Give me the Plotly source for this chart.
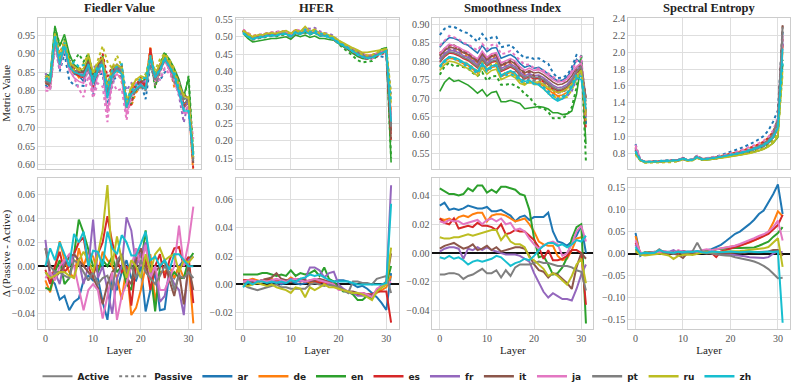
import numpy as np
import plotly.graph_objects as go

layers = list(range(32))
langs = ["ar", "de", "en", "es", "fr", "it", "ja", "pt", "ru", "zh"]
colors = {"ar": "#1f77b4", "de": "#ff7f0e", "en": "#2ca02c", "es": "#d62728", "fr": "#9467bd",
          "it": "#8c564b", "ja": "#e377c2", "pt": "#7f7f7f", "ru": "#bcbd22", "zh": "#17becf"}

# ---- Fiedler value ----
fiedler_active = {
    "ar": [.820, .815, .940, .880, .925, .865, .845, .840, .825, .870, .800, .855, .875, .800, .840, .855, .845, .760, .800, .815, .820, .815, .890, .830, .865, .885, .870, .845, .800, .760, .765, .605],
    "de": [.835, .830, .950, .880, .930, .875, .855, .835, .840, .880, .830, .865, .880, .800, .850, .865, .850, .765, .800, .830, .830, .815, .910, .840, .865, .890, .865, .820, .800, .760, .775, .620],
    "en": [.845, .840, .975, .920, .952, .900, .870, .860, .850, .885, .840, .870, .890, .800, .855, .870, .860, .770, .785, .800, .815, .805, .895, .845, .870, .900, .885, .860, .830, .785, .835, .615],
    "es": [.830, .825, .950, .880, .930, .870, .850, .840, .835, .875, .820, .860, .880, .795, .845, .860, .850, .760, .795, .815, .825, .810, .915, .830, .860, .890, .875, .840, .805, .755, .770, .615],
    "fr": [.825, .830, .945, .875, .925, .870, .855, .845, .845, .875, .830, .865, .875, .800, .850, .870, .850, .760, .790, .805, .815, .805, .895, .835, .860, .885, .870, .845, .805, .755, .770, .620],
    "it": [.820, .815, .940, .880, .930, .875, .855, .850, .850, .880, .835, .865, .890, .815, .860, .870, .860, .770, .790, .805, .815, .805, .890, .830, .860, .885, .870, .845, .815, .790, .780, .620],
    "ja": [.810, .805, .935, .860, .915, .855, .835, .825, .820, .860, .795, .840, .855, .740, .830, .845, .830, .735, .785, .805, .815, .805, .885, .825, .850, .880, .855, .825, .790, .740, .740, .620],
    "pt": [.825, .820, .945, .875, .925, .870, .850, .845, .840, .870, .825, .860, .880, .800, .845, .860, .850, .760, .790, .805, .810, .805, .890, .830, .855, .885, .870, .845, .810, .780, .775, .615],
    "ru": [.840, .835, .955, .890, .935, .880, .865, .855, .860, .895, .850, .875, .890, .810, .860, .870, .860, .770, .810, .830, .840, .835, .895, .845, .870, .895, .875, .850, .815, .785, .780, .620],
    "zh": [.830, .825, .945, .870, .920, .865, .850, .845, .840, .870, .820, .855, .870, .780, .840, .855, .845, .755, .790, .805, .815, .805, .890, .835, .855, .885, .865, .840, .795, .745, .745, .625],
}
fiedler_delta = {
    "ar": [-.005, -.010, -.015, -.028, -.025, -.037, -.030, -.027, -.012, -.008, -.012, -.010, -.030, -.045, -.010, -.020, -.005, .005, -.010, -.012, .000, -.038, -.020, -.005, -.037, -.036, -.005, -.010, .000, .005, .007, .008],
    "de": [-.012, -.022, -.005, .021, .005, -.005, -.010, .015, .000, .012, .008, -.005, .012, .005, .000, -.010, -.028, .000, -.041, -.035, -.020, .000, .010, -.030, -.005, -.005, .000, -.010, .000, -.010, .002, -.048],
    "en": [-.018, -.020, -.005, .005, -.015, -.010, .010, .039, .028, .015, .000, -.005, .005, .000, .008, -.005, .000, -.015, -.020, .015, .000, .030, -.005, -.038, .000, .005, -.010, -.005, -.010, -.010, .005, .011],
    "es": [-.003, -.015, .000, .012, -.005, .000, .010, .020, .024, .000, -.010, .010, .020, .042, .020, .005, -.005, .000, -.033, .000, .010, .005, -.020, .000, .010, -.010, .005, .015, .016, .000, .008, -.031],
    "fr": [.022, -.010, -.005, -.015, .005, .000, .010, .005, -.015, .000, .039, -.010, .000, -.020, -.040, -.010, .000, .041, .030, .000, .010, .020, -.010, .000, -.030, -.025, -.005, -.015, -.020, -.041, .005, .008],
    "it": [.015, -.005, -.010, -.005, .000, .008, .010, .005, .000, -.005, -.010, -.018, -.032, -.015, -.005, .000, .010, -.010, -.015, .005, .015, .000, -.010, -.005, .000, .005, -.012, -.025, -.005, -.032, .000, -.020],
    "ja": [-.010, -.005, -.012, .000, .005, .010, .000, -.020, -.037, -.020, -.015, -.020, -.044, -.025, -.005, -.045, -.025, -.015, .000, .015, .000, .018, -.010, .000, -.020, -.020, -.010, .000, .034, .000, .020, .050],
    "pt": [.015, .000, -.005, -.005, -.008, -.010, .005, .002, -.005, -.012, -.005, -.015, -.010, -.008, -.020, .005, .010, -.005, .000, -.010, .005, -.005, -.010, -.015, -.008, .000, -.005, -.020, -.008, -.010, -.005, -.010],
    "ru": [-.005, -.010, -.008, -.005, -.005, -.008, -.010, .005, .012, .005, -.005, .010, .030, .068, .000, .025, .005, -.010, .005, .000, -.010, .010, -.005, .010, .015, .005, .008, .010, -.005, .005, .003, .008],
    "zh": [.000, .015, .005, .020, .010, .000, .027, .020, .029, .000, .013, .012, .000, .029, .015, .010, .026, .020, .009, .009, .019, .029, .005, .008, .000, .005, -.003, .010, .010, .005, .000, .000],
}

# ---- HFER ----
hfer_active = {
    "ar": [.516, .507, .497, .502, .502, .506, .506, .507, .511, .512, .502, .515, .512, .518, .511, .514, .506, .505, .500, .494, .486, .478, .470, .462, .455, .448, .443, .446, .451, .456, .458, .240],
    "de": [.517, .508, .498, .503, .503, .508, .508, .508, .513, .513, .503, .517, .513, .521, .513, .516, .508, .508, .503, .496, .488, .481, .473, .465, .458, .451, .446, .448, .453, .458, .462, .275],
    "en": [.510, .495, .485, .488, .490, .493, .495, .495, .498, .500, .493, .505, .500, .505, .498, .502, .495, .495, .492, .490, .480, .472, .462, .452, .443, .437, .435, .440, .450, .465, .468, .137],
    "es": [.515, .505, .495, .500, .500, .505, .505, .505, .510, .510, .500, .515, .510, .518, .510, .513, .505, .505, .500, .493, .485, .478, .470, .462, .455, .448, .443, .445, .450, .455, .460, .230],
    "fr": [.518, .507, .497, .502, .503, .507, .508, .508, .512, .513, .503, .516, .512, .520, .511, .514, .506, .506, .501, .494, .486, .479, .471, .463, .456, .449, .444, .446, .451, .456, .461, .260],
    "it": [.516, .506, .496, .501, .501, .506, .507, .506, .511, .511, .501, .515, .511, .519, .511, .514, .506, .506, .501, .494, .486, .479, .471, .463, .456, .449, .444, .446, .451, .456, .460, .205],
    "ja": [.519, .509, .499, .503, .504, .509, .509, .509, .514, .514, .504, .518, .514, .522, .514, .517, .509, .508, .503, .496, .487, .480, .472, .464, .457, .450, .445, .447, .452, .457, .462, .260],
    "pt": [.514, .504, .495, .500, .500, .504, .505, .504, .509, .509, .500, .514, .509, .517, .509, .512, .504, .504, .499, .492, .484, .477, .469, .461, .454, .447, .442, .444, .449, .454, .459, .240],
    "ru": [.518, .508, .500, .505, .505, .510, .510, .510, .515, .518, .510, .520, .515, .530, .515, .522, .510, .510, .505, .500, .490, .482, .475, .468, .462, .455, .455, .458, .460, .462, .465, .310],
    "zh": [.512, .500, .493, .497, .498, .502, .503, .503, .507, .508, .500, .512, .507, .516, .507, .512, .503, .502, .498, .492, .482, .474, .466, .456, .448, .442, .438, .440, .446, .452, .458, .255],
}
hfer_delta = {
    "ar": [.000, .001, .002, .001, .003, .002, .001, .002, .000, .001, .002, .001, .000, .001, .002, .001, .002, .001, .002, .002, .003, .003, .002, .000, -.002, -.001, -.003, -.006, -.009, -.013, -.018, .008],
    "de": [.003, .003, .004, .003, .002, .003, .004, .002, .003, .002, .005, .003, .002, .003, .001, .002, .003, .001, .000, -.001, -.003, -.004, -.005, -.006, -.007, -.006, -.007, -.008, -.006, -.004, -.002, .006],
    "en": [.007, .007, .007, .007, .008, .008, .007, .006, .007, .006, .010, .006, .008, .007, .008, .010, .006, .012, .004, .002, -.002, -.005, -.005, -.007, -.011, -.011, -.008, -.010, -.005, -.002, .000, .013],
    "es": [.003, .003, .003, .002, .003, .004, .003, .002, .003, .003, .002, .004, .003, .002, .003, .002, .001, .002, .000, -.001, -.003, -.004, -.005, -.006, -.007, -.007, -.007, -.007, -.005, -.005, -.005, -.027],
    "fr": [.002, .002, .001, .002, .003, .002, .003, .002, .001, .002, .004, .003, .002, .004, .012, .012, .010, .005, .008, .009, .000, -.003, -.005, -.006, -.008, -.008, -.008, -.008, -.005, .000, .000, .070],
    "it": [.002, .002, .001, .002, .003, .004, .005, .008, .004, .003, .002, .003, .004, .003, .002, .003, .004, .003, .002, .000, -.002, -.004, -.005, -.005, -.006, -.006, -.007, -.008, -.004, -.001, .002, .022],
    "ja": [.002, .003, .003, .002, .003, .002, .003, .004, .003, .002, .003, .004, .003, .002, .003, .004, .003, .002, .001, .000, -.004, -.004, -.005, -.006, -.006, -.006, -.007, -.009, -.003, -.001, .000, .002],
    "pt": [.000, -.002, -.003, -.004, -.003, -.002, -.001, .000, -.002, -.002, -.003, -.003, -.003, -.003, .000, .001, .000, -.001, .000, -.001, -.002, -.004, -.006, .002, .002, .001, .001, .000, .004, .005, .006, -.006],
    "ru": [.000, -.001, .000, .001, .000, -.001, .000, -.002, -.003, -.004, -.006, -.002, -.003, -.009, -.002, -.004, -.002, .000, -.002, -.002, -.003, -.004, -.005, -.006, -.006, -.007, -.009, -.011, -.005, -.002, .000, .026],
    "zh": [-.002, .002, .000, .002, .002, .001, .002, .001, .002, .001, .003, .002, .004, .005, .007, .006, .007, .005, .003, .002, .002, .002, .002, .001, .000, .000, .000, .000, .000, .000, .001, .057],
}

# ---- Smoothness index ----
smooth_active = {
    "ar": [.838, .853, .864, .862, .857, .848, .843, .833, .822, .843, .826, .835, .837, .808, .814, .818, .810, .794, .783, .788, .781, .783, .775, .765, .754, .746, .748, .757, .775, .805, .795, .630],
    "de": [.783, .798, .808, .806, .801, .793, .788, .778, .768, .790, .773, .783, .786, .758, .765, .770, .763, .748, .738, .744, .738, .740, .733, .723, .713, .706, .708, .715, .730, .755, .775, .660],
    "en": [.718, .742, .755, .745, .748, .742, .735, .725, .713, .723, .705, .715, .718, .690, .690, .694, .690, .685, .671, .673, .675, .677, .675, .670, .660, .660, .655, .657, .665, .710, .795, .575],
    "es": [.797, .812, .822, .820, .815, .807, .802, .792, .782, .804, .787, .797, .800, .772, .779, .784, .777, .762, .752, .758, .752, .754, .747, .737, .727, .720, .722, .729, .744, .768, .785, .650],
    "fr": [.805, .820, .830, .828, .823, .815, .810, .800, .790, .812, .795, .805, .808, .780, .787, .792, .785, .770, .760, .766, .760, .762, .755, .745, .735, .728, .730, .737, .752, .775, .790, .660],
    "it": [.813, .828, .838, .836, .831, .823, .818, .808, .798, .820, .803, .813, .816, .788, .795, .800, .793, .778, .768, .774, .768, .770, .763, .753, .743, .736, .738, .745, .760, .783, .795, .700],
    "ja": [.820, .835, .846, .843, .838, .830, .825, .815, .806, .827, .810, .820, .823, .795, .802, .807, .800, .785, .775, .781, .775, .777, .770, .760, .750, .743, .745, .752, .767, .785, .795, .650],
    "pt": [.800, .815, .825, .823, .818, .810, .805, .795, .785, .807, .790, .800, .803, .775, .782, .787, .780, .765, .755, .761, .755, .757, .750, .740, .730, .723, .725, .732, .747, .770, .787, .690],
    "ru": [.775, .790, .800, .798, .793, .785, .780, .770, .760, .782, .765, .775, .778, .750, .757, .762, .755, .740, .735, .745, .742, .744, .737, .728, .720, .715, .718, .725, .738, .760, .775, .660],
    "zh": [.787, .802, .812, .810, .805, .797, .792, .782, .772, .794, .777, .787, .790, .762, .769, .774, .767, .752, .745, .748, .740, .735, .725, .712, .700, .692, .698, .710, .728, .755, .750, .670],
}
smooth_delta = {
    "ar": [.033, .035, .030, .031, .030, .031, .033, .032, .031, .031, .032, .029, .029, .030, .028, .026, .022, .025, .026, .023, .025, .025, .025, .028, .015, .008, .007, .005, .008, .012, .019, .000],
    "de": [.024, .023, .024, .022, .025, .026, .025, .027, .028, .028, .022, .026, .027, .027, .026, .024, .022, .023, .024, .020, .015, .008, .006, .005, .005, -.002, -.005, -.004, .002, .010, .011, .011],
    "en": [.045, .043, .041, .041, .040, .041, .045, .043, .047, .047, .042, .044, .042, .046, .046, .045, .044, .041, .040, .030, .010, -.003, -.002, -.008, -.015, -.014, -.010, -.003, .010, .018, .020, -.049],
    "es": [.024, .021, .020, .024, .017, .018, .019, .018, .021, .019, .019, .018, .016, .020, .013, .014, .016, .015, .015, .012, .009, .004, -.004, .002, -.005, -.005, -.004, -.002, .002, .002, .000, -.036],
    "fr": [.001, .003, .004, .004, .003, -.004, .003, .002, .004, .002, .004, .002, .001, .000, -.001, -.001, -.001, -.002, -.004, -.006, -.014, -.020, -.027, -.031, -.028, -.030, -.032, -.032, -.033, -.025, -.015, -.008],
    "it": [.003, .005, .006, .007, .005, .003, .004, .006, .002, .003, .005, .002, .004, .001, .002, .003, .004, .004, .003, -.002, -.008, -.012, -.013, -.017, -.014, -.015, -.018, -.021, -.025, -.010, .000, -.004],
    "ja": [.022, .021, .023, .022, .022, .020, .021, .022, .023, .020, .023, .024, .022, .024, .020, .021, .016, .017, .015, .010, .006, .003, .005, .007, .008, .006, -.002, .000, .006, .015, .019, .008],
    "pt": [-.015, -.015, -.014, -.014, -.015, -.018, -.016, -.015, -.013, -.011, -.014, -.014, -.012, -.017, -.012, -.016, -.010, -.008, -.008, -.008, -.007, -.006, -.007, -.007, -.008, -.009, -.009, -.009, -.010, -.012, -.013, -.026],
    "ru": [.011, .010, .010, .011, .011, .012, .013, .012, .013, .014, .015, .016, .016, .009, .013, .008, .006, .006, .004, -.003, -.005, -.008, -.011, -.016, -.014, -.016, -.019, -.022, -.016, -.008, -.004, -.021],
    "zh": [-.003, -.004, -.002, -.004, -.003, -.005, -.008, -.006, -.005, -.006, -.005, -.004, -.002, -.003, -.006, -.009, -.007, -.006, -.004, -.005, -.002, .002, .005, .007, .007, .005, .006, .004, .006, .009, .008, .012],
}

# ---- Spectral entropy ----
entropy_active = {
    "ar": [.86, .72, .695, .695, .70, .70, .705, .705, .71, .715, .735, .715, .72, .75, .725, .73, .735, .745, .755, .765, .78, .79, .805, .82, .835, .855, .875, .905, .955, 1.04, 1.15, 2.15],
    "de": [.83, .72, .695, .695, .70, .70, .705, .705, .71, .715, .735, .715, .72, .748, .725, .73, .735, .745, .755, .765, .775, .785, .80, .815, .83, .85, .87, .895, .935, .99, 1.08, 2.0],
    "en": [.79, .715, .69, .69, .695, .695, .70, .70, .705, .71, .73, .71, .715, .745, .72, .72, .725, .735, .745, .752, .76, .768, .78, .79, .80, .815, .83, .85, .88, .92, .99, 1.85],
    "es": [.82, .72, .695, .695, .70, .70, .705, .705, .71, .715, .737, .715, .72, .75, .725, .73, .735, .745, .755, .765, .775, .785, .80, .815, .83, .85, .87, .895, .935, .99, 1.09, 2.1],
    "fr": [.84, .72, .695, .695, .70, .70, .705, .705, .71, .715, .735, .715, .72, .752, .725, .73, .735, .745, .755, .765, .775, .785, .80, .815, .83, .85, .87, .895, .935, .99, 1.10, 2.1],
    "it": [.83, .72, .695, .695, .70, .70, .705, .705, .71, .715, .735, .715, .72, .75, .725, .73, .737, .748, .758, .768, .78, .79, .805, .82, .838, .86, .88, .91, .955, 1.03, 1.2, 2.32],
    "ja": [.87, .725, .695, .695, .70, .70, .705, .705, .71, .715, .735, .715, .722, .765, .73, .732, .738, .748, .758, .768, .782, .792, .808, .823, .84, .86, .88, .905, .945, 1.01, 1.15, 2.2],
    "pt": [.82, .72, .695, .695, .70, .70, .705, .705, .71, .715, .735, .715, .72, .75, .725, .73, .737, .748, .758, .768, .78, .79, .805, .82, .838, .86, .88, .91, .955, 1.03, 1.2, 2.3],
    "ru": [.78, .715, .69, .69, .695, .695, .70, .70, .705, .71, .728, .71, .715, .742, .718, .72, .725, .735, .742, .75, .758, .765, .775, .785, .795, .81, .825, .845, .875, .92, 1.0, 1.78],
    "zh": [.81, .72, .695, .695, .70, .70, .705, .705, .71, .715, .735, .715, .72, .75, .725, .73, .735, .745, .755, .765, .775, .785, .80, .815, .83, .85, .87, .895, .935, .99, 1.10, 2.04],
}
entropy_delta = {
    "ar": [.047, -.005, .002, .000, .003, .005, .002, .004, .000, .005, .003, .002, .004, .005, .006, .008, .010, .015, .020, .028, .036, .045, .050, .058, .067, .077, .090, .098, .115, .135, .157, .090],
    "de": [.040, .000, .002, .003, .000, .004, .002, .003, .005, .002, .004, .003, .002, .004, .005, .006, .005, .010, .012, .014, .015, .017, .020, .022, .025, .030, .035, .040, .050, .070, .096, .085],
    "en": [.010, .000, .003, .002, .004, .003, .005, .002, .004, .003, .005, .003, .004, .002, .005, .006, .008, .010, .011, .012, .012, .013, .013, .013, .013, .014, .018, .022, .027, .038, .047, .060],
    "es": [.025, .002, .000, .003, .001, .004, .002, .000, .003, .002, .006, .003, .001, .004, .002, .003, .002, -.008, .005, .008, .012, .015, .018, .022, .027, .030, .035, .040, .045, .055, .065, .088],
    "fr": [.020, .000, .002, .001, .003, .002, .005, .004, .008, .003, .006, .002, .004, .005, .003, .002, .000, .000, -.001, -.002, -.002, -.003, -.005, -.006, -.008, -.009, -.010, -.010, -.008, .000, .005, .003],
    "it": [.005, .000, -.001, .002, .000, .003, .000, .002, .000, -.003, -.010, .002, .000, .003, .002, .000, .002, .003, .000, .001, .002, .002, .003, .002, .004, .003, .004, .005, .005, .008, .008, -.005],
    "ja": [.030, .003, .000, .002, .004, .003, .006, .004, .002, .008, .004, .005, .006, .004, .008, .010, .008, .010, .012, .014, .015, .018, .022, .026, .030, .035, .040, .044, .050, .060, .075, .030],
    "pt": [.005, -.002, .000, .003, .002, .010, .003, .002, .000, .005, .000, .002, .005, .025, .005, .002, .000, -.002, -.003, -.004, -.005, -.008, -.010, -.012, -.015, -.018, -.022, -.028, -.035, -.045, -.056, -.055],
    "ru": [.005, -.002, -.004, -.003, -.001, .000, -.002, -.004, -.012, -.005, -.003, -.002, -.003, .000, .002, .003, .003, .004, .004, .005, .005, .006, .006, .007, .008, .009, .010, .012, .015, .025, .035, -.030],
    "zh": [.015, .000, .002, .001, .002, .008, .004, .003, .002, .004, .003, .005, .004, .006, .003, .002, .005, .004, .003, .004, .005, .004, .003, .004, .005, .004, .003, .004, .005, .004, .005, -.157],
}

titles = ["Fiedler Value", "HFER", "Smoothness Index", "Spectral Entropy"]
actives = [fiedler_active, hfer_active, smooth_active, entropy_active]
deltas = [fiedler_delta, hfer_delta, smooth_delta, entropy_delta]

top_ranges = [[0.588, 0.997], [0.118, 0.555], [0.507, 0.918], [0.61, 2.41]]
top_dticks = [0.05, 0.05, 0.05, 0.2]
top_formats = [".2f", ".2f", ".2f", ".1f"]
bot_ranges = [[-0.053, 0.074], [-0.0317, 0.0752], [-0.0531, 0.0522], [-0.172, 0.172]]
bot_dticks = [0.02, 0.02, 0.02, 0.05]

x_domains = [[0.0467, 0.2522], [0.2963, 0.5019], [0.5448, 0.7478], [0.7919, 0.9962]]
top_domain = [0.5703, 0.9668]
bot_domain = [0.1509, 0.5473]

SERIF = "Liberation Serif"
GRID = "#dedede"
FRAME = "#cccccc"

fig = go.Figure()


def ax_names(n):
    if n == 1:
        return "x", "y", "xaxis", "yaxis"
    return f"x{n}", f"y{n}", f"xaxis{n}", f"yaxis{n}"


layout = {}
for col in range(4):
    for row in range(2):
        n = col + 1 + row * 4
        xr, yr, xk, yk = ax_names(n)
        for lang in langs:
            a = np.array(actives[col][lang])
            d = np.array(deltas[col][lang])
            assert len(a) == 32 and len(d) == 32, (titles[col], lang)
            if row == 0:
                fig.add_trace(go.Scatter(x=layers, y=a, xaxis=xr, yaxis=yr, mode="lines",
                                         line=dict(color=colors[lang], width=1.6),
                                         showlegend=False, hoverinfo="skip"))
                fig.add_trace(go.Scatter(x=layers, y=a + d, xaxis=xr, yaxis=yr, mode="lines",
                                         line=dict(color=colors[lang], width=2, dash="dot"),
                                         showlegend=False, hoverinfo="skip"))
            else:
                fig.add_trace(go.Scatter(x=layers, y=d, xaxis=xr, yaxis=yr, mode="lines",
                                         line=dict(color=colors[lang], width=2),
                                         showlegend=False, hoverinfo="skip"))
        tick_font = dict(family=SERIF, size=10, color="#555555")
        layout[xk] = dict(domain=x_domains[col], anchor=yr, range=[-1.55, 32.55],
                          tickvals=[0, 10, 20, 30], showticklabels=(row == 1),
                          showgrid=True, gridcolor=GRID, gridwidth=1,
                          showline=True, mirror=True, linecolor=FRAME, linewidth=1,
                          zeroline=False, ticks="", tickfont=tick_font)
        if row == 1:
            layout[xk]["title"] = dict(text="Layer", standoff=2,
                                       font=dict(family=SERIF, size=11, color="#222"))
        layout[yk] = dict(domain=top_domain if row == 0 else bot_domain, anchor=xr,
                          range=top_ranges[col] if row == 0 else bot_ranges[col],
                          dtick=top_dticks[col] if row == 0 else bot_dticks[col],
                          tickformat=top_formats[col] if row == 0 else ".2f",
                          showgrid=True, gridcolor=GRID, gridwidth=1,
                          showline=True, mirror=True, linecolor=FRAME, linewidth=1,
                          zeroline=(row == 1), zerolinecolor="#111", zerolinewidth=1.5,
                          ticks="", tickfont=tick_font)
        if col == 0:
            layout[yk]["title"] = dict(text="Metric Value" if row == 0 else "Δ (Passive - Active)",
                                       standoff=4, font=dict(family=SERIF, size=11, color="#222"))

annotations = []
for col in range(4):
    annotations.append(dict(text=f"<b>{titles[col]}</b>", xref="paper", yref="paper",
                            x=sum(x_domains[col]) / 2, y=top_domain[1] + 0.002,
                            xanchor="center", yanchor="bottom", showarrow=False,
                            font=dict(family=SERIF, size=12.5, color="#222")))

# legend entries
fig.add_trace(go.Scatter(x=[None], y=[None], mode="lines", name="Active",
                         line=dict(color="gray", width=2)))
fig.add_trace(go.Scatter(x=[None], y=[None], mode="lines", name="Passive",
                         line=dict(color="gray", width=2, dash="dot")))
for lang in langs:
    fig.add_trace(go.Scatter(x=[None], y=[None], mode="lines", name=lang,
                             line=dict(color=colors[lang], width=2.5)))

fig.update_layout(
    width=793, height=391,
    margin=dict(l=0, r=0, t=0, b=0),
    paper_bgcolor="white", plot_bgcolor="white",
    annotations=annotations,
    showlegend=True,
    legend=dict(orientation="h", x=0.5, xanchor="center", y=0.028, yanchor="middle",
                font=dict(family="DejaVu Sans", size=9, color="#222", weight="bold"),
                itemwidth=30, bgcolor="rgba(0,0,0,0)"),
    **layout,
)

fig.write_html("out.html", config={"displayModeBar": False},
               post_script="document.body.style.margin='0';")
